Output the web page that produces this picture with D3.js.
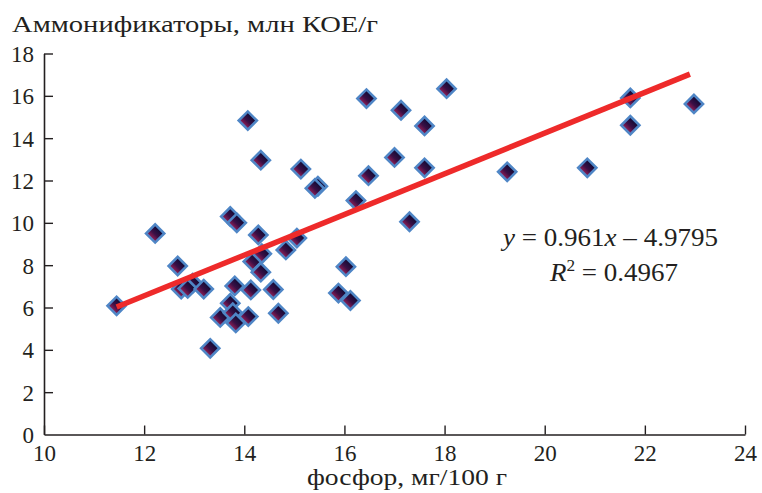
<!DOCTYPE html>
<html>
<head>
<meta charset="utf-8">
<script src="https://cdn.jsdelivr.net/npm/d3@7"></script>
<style>
  body { margin: 0; background: #fff; }
</style>
</head>
<body>
<svg id="chart" width="762" height="493"></svg>
<script>
// phosphorus, mg/100 g
const phosphorus = [11.45, 12.22, 12.67, 12.97, 12.74, 12.87, 13.19, 13.32, 13.52, 13.72,
  13.77, 13.83, 13.72, 13.85, 13.81, 14.08, 14.07, 14.13, 14.17, 14.28,
  14.33, 14.35, 14.33, 14.58, 14.68, 14.83, 15.05, 15.13, 15.47, 15.41,
  15.88, 16.03, 16.12, 16.23, 16.44, 16.48, 17.0, 17.13, 17.3, 17.6,
  17.6, 18.04, 19.25, 20.85, 21.71, 21.71, 22.98];
// ammonifiers, mln CFU/g
const ammonifiers = [6.08, 9.5, 7.96, 7.15, 6.87, 6.9, 6.87, 4.07, 5.53, 6.2,
  5.75, 5.27, 10.3, 10.0, 7.02, 5.57, 14.83, 6.83, 8.17, 9.43,
  12.96, 8.54, 7.67, 6.85, 5.73, 8.72, 9.28, 12.54, 11.73, 11.63,
  6.68, 7.93, 6.33, 11.05, 15.87, 12.23, 13.09, 15.32, 10.05, 14.58,
  12.6, 16.34, 12.41, 12.6, 15.9, 14.61, 15.62];

const xTicks = [10, 12, 14, 16, 18, 20, 22, 24];
const yTicks = [0, 2, 4, 6, 8, 10, 12, 14, 16, 18];
const slope = 0.961, intercept = -4.9795;
const trendX = [11.45, 22.9];

const serif = '"Liberation Serif", "DejaVu Serif", serif';
const ink = '#231f20';
const svg = d3.select('#chart');
const x = d3.scaleLinear().domain([10, 24]).range([44, 745]);
const y = d3.scaleLinear().domain([0, 18]).range([434.5, 53.5]);

const defs = svg.append('defs');
const grad = defs.append('linearGradient')
  .attr('id', 'mk').attr('x1', 0).attr('y1', 0).attr('x2', 0).attr('y2', 1);
grad.append('stop').attr('offset', '0%').attr('stop-color', '#0d0a33');
grad.append('stop').attr('offset', '55%').attr('stop-color', '#3a0f45');
grad.append('stop').attr('offset', '100%').attr('stop-color', '#9b1f55');

// axes
const xAxis = svg.append('g').attr('transform', `translate(0,${y(0)})`)
  .call(d3.axisBottom(x).tickValues(xTicks).tickSizeInner(-9).tickSizeOuter(0).tickPadding(10));
const yAxis = svg.append('g').attr('transform', `translate(${x(10)},0)`)
  .call(d3.axisLeft(y).tickValues(yTicks).tickSizeInner(-9).tickSizeOuter(0).tickPadding(10));

[xAxis, yAxis].forEach(a => {
  a.attr('font-family', serif).attr('font-size', 23);
  a.select('.domain').attr('stroke', ink).attr('stroke-width', 1.6);
  a.selectAll('.tick line').attr('stroke', ink).attr('stroke-width', 1.4);
  a.selectAll('.tick text').attr('fill', ink);
});
xAxis.selectAll('.tick text').attr('dy', '0.71em');
yAxis.selectAll('.tick text').attr('dy', '0.35em');
yAxis.selectAll('.tick').filter(d => d == 0).select('line').remove();

// points
const diamond = d3.symbol().type(d3.symbolSquare).size(165);
svg.append('g').selectAll('path')
  .data(phosphorus.map((p, i) => [p, ammonifiers[i]]))
  .enter()
  .append('path')
  .attr('d', diamond)
  .attr('transform', d => `translate(${x(d[0])},${y(d[1])}) rotate(45)`)
  .attr('fill', 'url(#mk)')
  .attr('stroke', '#4f86c6')
  .attr('stroke-width', 2.6);

// trend line
svg.append('line')
  .attr('x1', x(trendX[0])).attr('y1', y(slope * trendX[0] + intercept))
  .attr('x2', x(trendX[1])).attr('y2', y(slope * trendX[1] + intercept))
  .attr('stroke', '#ee2a2a')
  .attr('stroke-width', 5.5);

// equation
const eq = svg.append('text').attr('x', 503).attr('y', 246)
  .attr('font-family', serif).attr('font-size', 25).attr('fill', ink)
  .attr('textLength', 215).attr('lengthAdjust', 'spacingAndGlyphs');
eq.append('tspan').style('font-style', 'italic').text('y');
eq.append('tspan').text(' = 0.961');
eq.append('tspan').style('font-style', 'italic').text('x');
eq.append('tspan').text(' – 4.9795');

const r2 = svg.append('text').attr('x', 550).attr('y', 281)
  .attr('font-family', serif).attr('font-size', 25).attr('fill', ink)
  .attr('textLength', 128).attr('lengthAdjust', 'spacingAndGlyphs');
r2.append('tspan').style('font-style', 'italic').text('R');
r2.append('tspan').attr('dy', -10).attr('font-size', 16).text('2');
r2.append('tspan').attr('dy', 10).text(' = 0.4967');

// titles
svg.append('text').attr('x', 12).attr('y', 32)
  .attr('font-family', serif).attr('font-size', 24).attr('fill', ink)
  .attr('textLength', 366).attr('lengthAdjust', 'spacingAndGlyphs')
  .text('Аммонификаторы, млн КОЕ/г');
svg.append('text').attr('x', 307).attr('y', 485)
  .attr('font-family', serif).attr('font-size', 24).attr('fill', ink)
  .attr('textLength', 200).attr('lengthAdjust', 'spacingAndGlyphs')
  .text('фосфор, мг/100 г');
</script>
</body>
</html>
